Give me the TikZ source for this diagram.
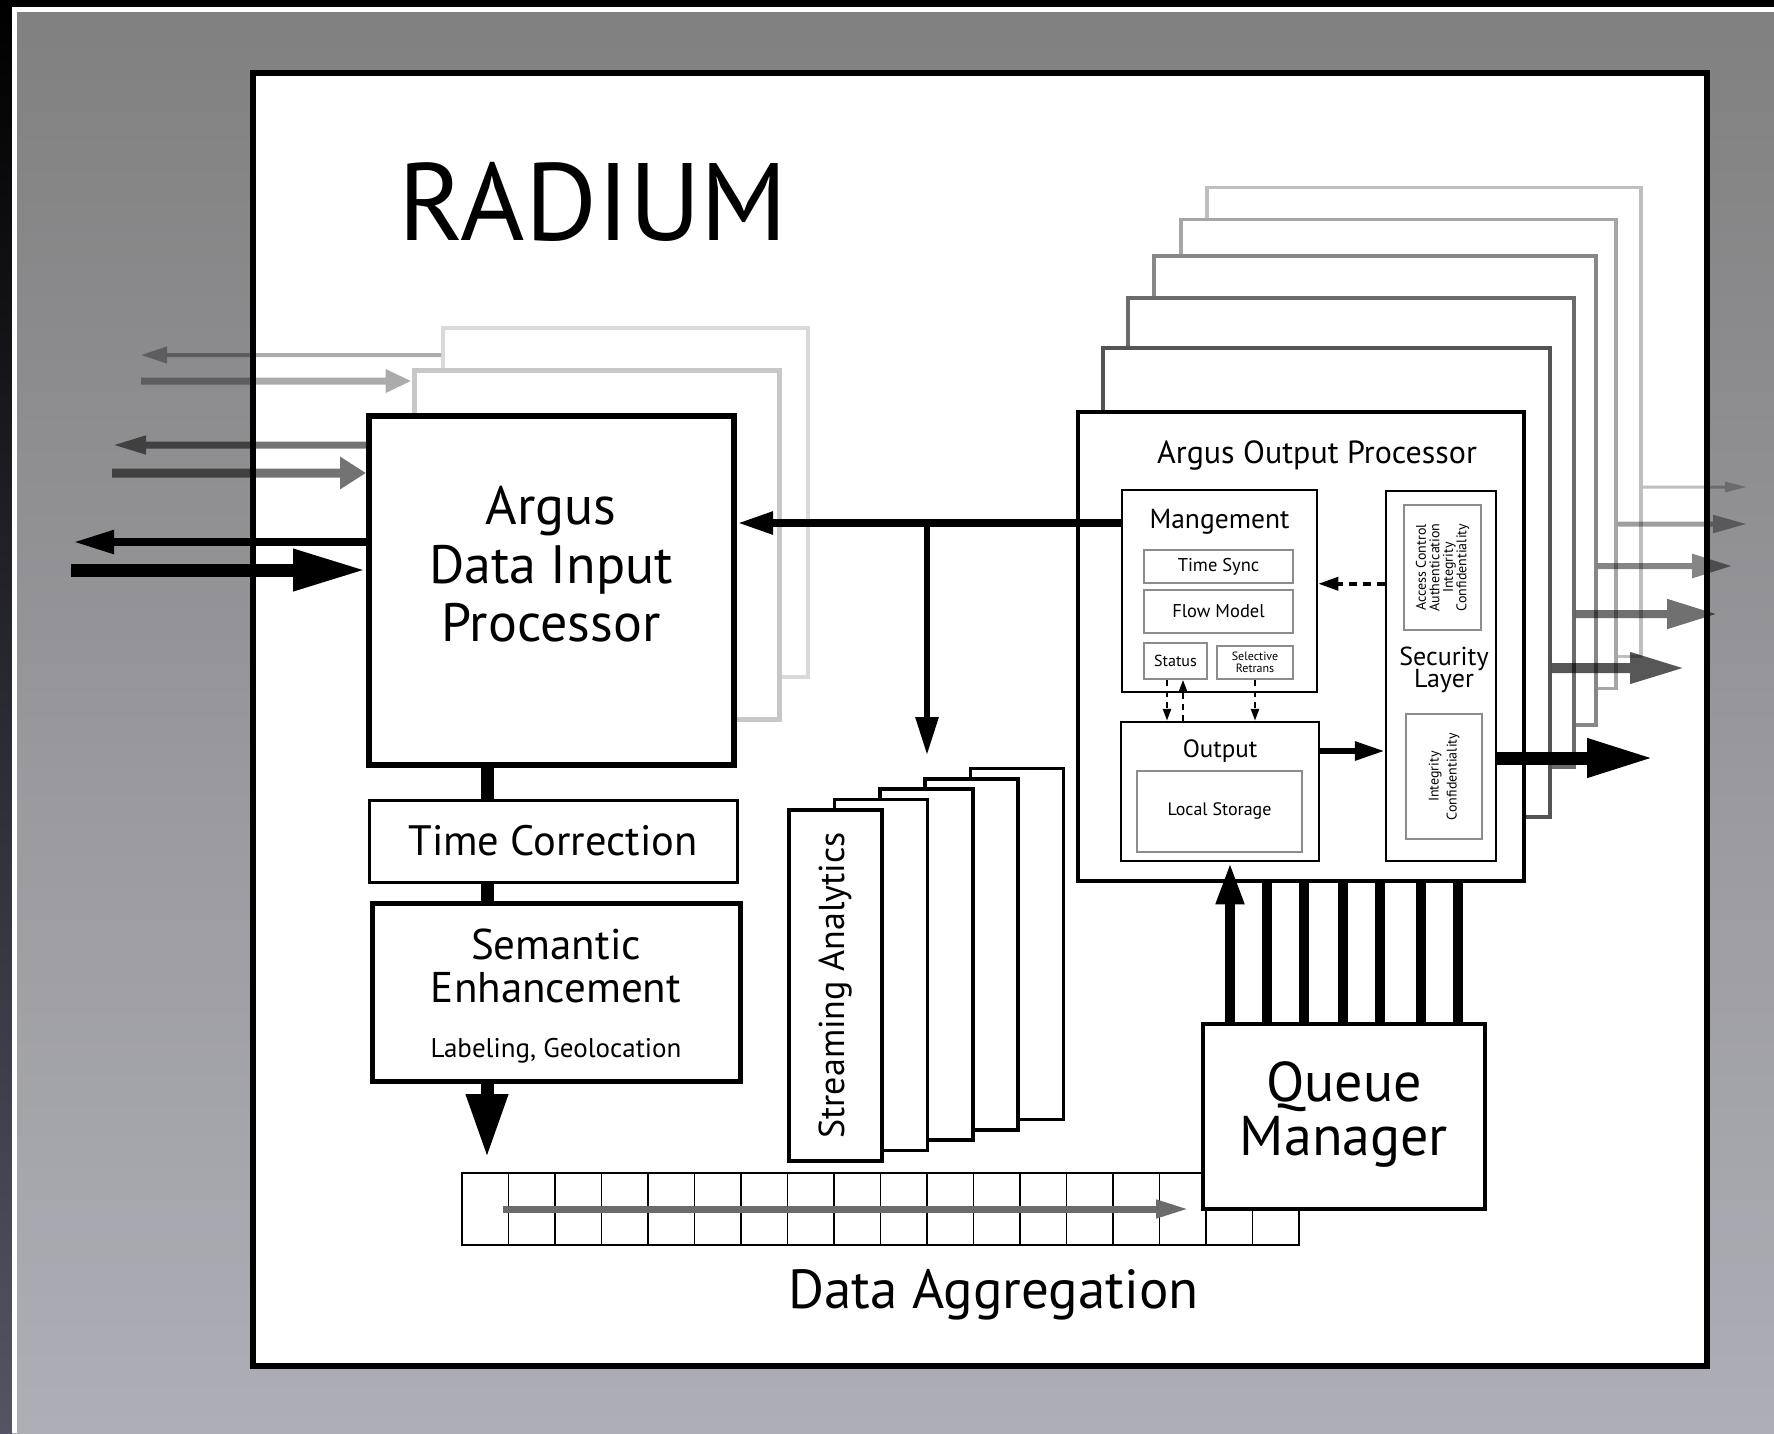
\documentclass[tikz,border=0pt]{standalone}
\usepackage{fontspec}
\setmainfont{PT Sans}
\usetikzlibrary{positioning, arrows.meta}
\setlength{\lineskiplimit}{-100pt}

\definecolor{bgtop}{RGB}{128,128,128}
\definecolor{bgbot}{RGB}{174,174,183}
\definecolor{stripbot}{RGB}{84,84,100}
\definecolor{qgray}{RGB}{107,107,107}
\newcommand{\sz}[2]{\fontsize{#1}{#2}\selectfont}

\tikzset{
  box/.style={draw, fill=white, line width=3.5pt, inner sep=0pt, align=center},
  subbox/.style={draw=black!45, fill=white, line width=1.5pt, inner sep=0pt, align=center},
  ghost/.style={draw, fill=white, line width=3.5pt, inner sep=0pt},
  txt/.style={inner sep=0pt, align=center},
  faded/.style={transparency group, opacity=#1},
  bar/.style={line width=13pt},
  feed/.style={line width=10pt},
  link/.style={line width=8pt, -{Triangle[length=36pt,width=21pt]}},
  dotlink/.style={line width=3.5pt, dash pattern=on 8pt off 6pt, -{Triangle[length=20pt,width=13pt]}},
  smalldot/.style={line width=2.5pt, dash pattern=on 6pt off 5pt, -{Triangle[length=12pt,width=8pt]}}
}

\begin{document}
\begin{tikzpicture}[x=1pt, y=-1pt]
\useasboundingbox (0,0) rectangle (1774,1433);
% Slide background
\shade[top color=bgtop, bottom color=bgbot] (0,0) rectangle (1774,1433);
\shade[top color=black, bottom color=stripbot] (0,0) rectangle (12,1433);
\fill[black] (0,0) rectangle (1774,7);
\fill[white] (12,7) rectangle (1774,12);
\fill[white] (12,12) rectangle (17,1433);
% RADIUM frame
\draw[line width=6pt, fill=white] (253,73) rectangle (1707,1366);
\node[txt, anchor=base west, font=\sz{110}{120}] (title) at (398,240) {RADIUM};

% Input processors (stacked)
\node[ghost, draw=black!15, line width=4pt, minimum width=365pt, minimum height=349pt] (dipA) at (625.5,502.5) {};
\coordinate (outA) at (141,355);
\begin{scope}[faded=0.33]
\draw[line width=4pt, -{Triangle[length=26pt,width=16pt]}] (dipA.west |- outA) -- (outA);
\end{scope}
\node[ghost, draw=black!22, line width=5pt, minimum width=365pt, minimum height=349pt] (dipB) at (596.5,544.5) {};
\coordinate (inA) at (141,381);
\coordinate (outB) at (112,445);
\begin{scope}[faded=0.33]
\draw[line width=7pt, -{Triangle[length=26pt,width=22pt]}] (inA) -- (dipB.west |- inA);
\end{scope}
\begin{scope}[faded=0.55]
\draw[line width=7pt, -{Triangle[length=34pt,width=17pt]}] (dipB.west |- outB) -- (outB);
\end{scope}
\node[box, line width=6pt, minimum width=365pt, minimum height=349pt] (dip) at (551.5,590.5) {};
\node[txt, font=\sz{54}{58.5}] (dipText) at (551,564.5) {Argus\\Data Input\\Processor};
\coordinate (inB) at (112,473);
\begin{scope}[faded=0.55]
\draw[line width=9pt, -{Triangle[length=26pt,width=31pt]}] (inB) -- (dip.west |- inB);
\end{scope}
% Main input and output
\coordinate (outC) at (73,542);
\coordinate (inC) at (71,570);
\draw[line width=8pt, -{Triangle[length=41pt,width=22pt]}] (dip.west |- outC) -- (outC);
\draw[line width=13pt, -{Triangle[length=73pt,width=39pt]}] (inC) -- (dip.west |- inC);

% Time correction and enhancement
\coordinate (aggIn) at (487,1158);
\node[box, line width=3pt, minimum width=368pt, minimum height=82pt, font=\sz{42.5}{48}] (tc) at (553,841) {Time Correction};
\node[box, line width=5pt, minimum width=368pt, minimum height=178pt] (se) at (556,992) {};
\node[txt, font=\sz{43}{43}] (seText) at (556,966) {Semantic\\Enhancement};
\node[txt, anchor=base, font=\sz{27}{30}] (seSub) at (556,1057) {Labeling, Geolocation};
\draw[bar] (dip.south -| aggIn) -- (tc.north -| aggIn);
\draw[bar] (tc.south -| aggIn) -- (se.north -| aggIn);
\draw[bar, -{Triangle[length=64pt,width=39pt]}] (se.south -| aggIn) -- (aggIn);

% Streaming analytics
\foreach \k in {4,3,2,1}
  \node[box, minimum width=93pt, minimum height=351pt] (sa\k) at (835.5+45.4*\k, 985.5-10.4*\k) {};
\node[box, rotate=90, minimum width=351pt, minimum height=93pt, font=\sz{36}{40}] (sa0) at (835.5,985.5) {Streaming Analytics};

% Data aggregation queue
\node[draw, line width=1.5pt, minimum width=837pt, minimum height=72pt, inner sep=0pt] (agg) at (880.5,1209) {};
\foreach \i in {1,...,17}
  \draw[line width=1.5pt] (462+46.5*\i,1173) -- (462+46.5*\i,1245);
\coordinate (qStart) at (503,1209);
\coordinate (qEnd) at (1189,1209);
\draw[qgray, line width=7pt, -{Triangle[length=33pt,width=17pt]}] (qStart) -- (qEnd);
\node[txt, anchor=base, font=\sz{55}{60}] (aggText) at (993.5,1308) {Data Aggregation};

% Queue manager
\node[box, minimum width=282pt, minimum height=185pt] (qm) at (1344,1116.5) {};
\node[txt, font=\sz{56}{54}] (qmText) at (1344,1114.5) {Queue\\Manager};

% Output processors (stacked)
\foreach \n/\cx/\cy/\w/\g in {5/1424/422/434/25, 4/1398.5/454/435/35, 3/1375/490.5/442/47, 2/1351/532.5/446/58, 1/1326.5/582.5/447/67}
  \node[ghost, draw=black!\g, minimum width=\w pt, minimum height=469pt] (aop\n) at (\cx,\cy) {};
\node[box, minimum width=446pt, minimum height=469pt] (aop) at (1301,646.5) {};
\node[txt, anchor=base, font=\sz{32}{34}] (aopText) at (1317,463.5) {Argus Output Processor};

% Management
\node[box, line width=2.5pt, minimum width=195pt, minimum height=202pt] (mgmt) at (1219.5,591) {};
\node[txt, anchor=base, font=\sz{27.5}{32}] (mgmtText) at (1219.5,528) {Mangement};
\node[subbox, minimum width=149pt, minimum height=33pt, font=\sz{18.5}{22}] (tsync) at (1218.5,566.5) {Time Sync};
\node[subbox, minimum width=149pt, minimum height=43pt, font=\sz{18.5}{22}] (fmodel) at (1218.5,611.5) {Flow Model};
\node[subbox, minimum width=63pt, minimum height=36pt, font=\sz{16}{20}] (status) at (1175.5,661) {Status};
\node[subbox, minimum width=76pt, minimum height=33pt, font=\sz{12}{12}] (selret) at (1255,662.5) {Selective\\Retrans};

% Output
\node[box, line width=2.5pt, minimum width=198pt, minimum height=139pt] (output) at (1220,791.5) {};
\node[txt, anchor=base, font=\sz{25}{30}] (outputText) at (1220,757) {Output};
\node[subbox, minimum width=165pt, minimum height=81pt, font=\sz{18}{22}] (lstore) at (1219.5,811.5) {\raisebox{5pt}{Local Storage}};

% Security layer
\node[box, line width=2.5pt, minimum width=110pt, minimum height=370pt] (sec) at (1441,676) {};
\node[subbox, rotate=90, minimum width=125pt, minimum height=77pt, font=\sz{14}{13.5}] (secA) at (1442.5,567.5) {Access Control\\Authentication\\Integrity\\Confidentiality};
\node[txt, font=\sz{26}{22}] (secText) at (1444,670) {Security\\Layer};
\node[subbox, rotate=90, minimum width=125pt, minimum height=76pt, font=\sz{14}{18}] (secB) at (1444,776.5) {Integrity\\Confidentiality};

% Internal links
\draw[dotlink] (sec.west |- tsync.south) -- (mgmt.east |- tsync.south);
\draw[smalldot] ([xshift=-8.5pt]status.south) -- ([xshift=-8.5pt]status.south |- output.north);
\draw[smalldot] ([xshift=7.5pt]status.south |- output.north) -- ([xshift=7.5pt]status.south);
\draw[smalldot] (selret.south) -- (selret.south |- output.north);
\coordinate (toSec) at (1386,751);
\draw[line width=6pt, -{Triangle[length=30pt,width=18pt]}] (output.east |- toSec) -- (sec.west |- toSec);

% Outputs of the stacked processors
\coordinate (rt5) at (1747,487);
\coordinate (rt4) at (1747,524);
\coordinate (rt3) at (1732,566);
\coordinate (rt2) at (1717,614);
\coordinate (rt1) at (1685,668);
\coordinate (rt0) at (1654,758);
\begin{scope}[faded=0.25]
\draw[line width=3pt, -{Triangle[length=22pt,width=10pt]}] (aop5.east |- rt5) -- (rt5);
\end{scope}
\begin{scope}[faded=0.38]
\draw[line width=5pt, -{Triangle[length=34pt,width=17pt]}] (aop4.east |- rt4) -- (rt4);
\end{scope}
\begin{scope}[faded=0.48]
\draw[line width=6pt, -{Triangle[length=40pt,width=23pt]}] (aop3.east |- rt3) -- (rt3);
\end{scope}
\begin{scope}[faded=0.56]
\draw[line width=8pt, -{Triangle[length=50pt,width=28pt]}] (aop2.east |- rt2) -- (rt2);
\end{scope}
\begin{scope}[faded=0.66]
\draw[line width=10pt, -{Triangle[length=55pt,width=29pt]}] (aop1.east |- rt1) -- (rt1);
\end{scope}
\draw[line width=13pt, -{Triangle[length=67pt,width=36pt]}] (sec.east |- rt0) -- (rt0);

% Feedback to input and analytics
\coordinate (tap) at (927,523);
\coordinate (saIn) at (927,755);
\draw[link] (mgmt.west |- tap) -- (dip.east |- tap);
\draw[line width=6pt, -{Triangle[length=38pt,width=22pt]}] (tap) -- (saIn);

% Queue manager feeds
\foreach \dx in {-77,-40,-1,36,77,114}
  \draw[feed] ([xshift=\dx pt]qm.north) -- ([xshift=\dx pt]qm.north |- aop.south);
\draw[feed, -{Triangle[length=42pt,width=26pt]}] ([xshift=-114pt]qm.north) -- ([xshift=-114pt]qm.north |- output.south);
\end{tikzpicture}
\end{document}
